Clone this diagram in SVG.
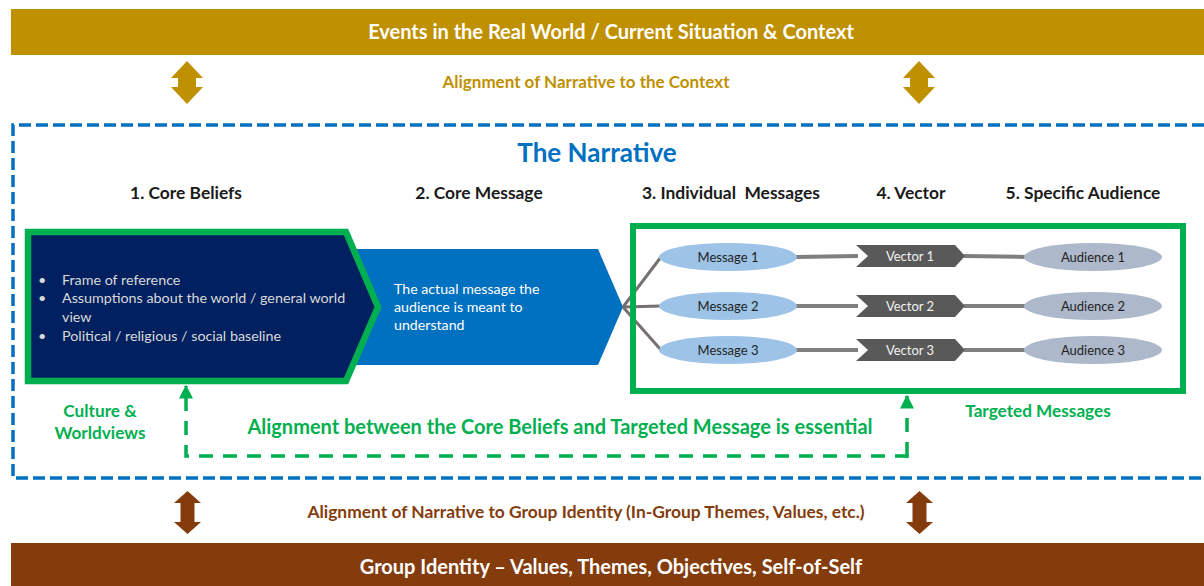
<svg xmlns="http://www.w3.org/2000/svg" width="1204" height="586" viewBox="0 0 1204 586">
  <style>
    text { font-family: Lato, "Open Sans", "Liberation Sans", sans-serif; }
    .bar { font-weight: bold; font-size: 20px; fill: #FFFFFF; text-anchor: middle; }
    .gold { font-weight: bold; font-size: 17px; fill: #BF9000; text-anchor: middle; }
    .brown { font-weight: bold; font-size: 17.4px; fill: #843C0C; text-anchor: middle; }
    .head { font-weight: bold; font-size: 17.4px; fill: #1A1A1A; text-anchor: middle; }
    .title { font-weight: bold; font-size: 26px; fill: #0070C0; text-anchor: middle; }
    .green { font-weight: bold; font-size: 17.2px; fill: #00B050; text-anchor: middle; }
    .greenbig { font-weight: bold; font-size: 20px; fill: #00B050; text-anchor: middle; }
    .belief { font-size: 14.3px; fill: #D9D9D9; }
    .msgtxt { font-size: 14.2px; fill: #FFFFFF; }
    .lbl { font-size: 13px; fill: #1F1F1F; text-anchor: middle; }
    .vlbl { font-size: 13px; fill: #F2F2F2; text-anchor: middle; }
    .msg { fill: #9DC3E6; }
    .aud { fill: #ADB9CA; }
    .vec { fill: #595959; }
    .link { stroke: #7F7F7F; stroke-width: 4; fill: none; }
    .fan { stroke: #767171; stroke-width: 3; fill: none; }
  </style>
  <defs>
    <marker id="garrow" viewBox="0 0 10 10" refX="9" refY="5" markerWidth="4" markerHeight="4" orient="auto">
      <path d="M0,0 L10,5 L0,10 z" fill="#00B050"/>
    </marker>
  </defs>

  <!-- top context bar -->
  <g id="context-bar">
    <rect x="11" y="9" width="1193" height="46" fill="#BF9000"/>
    <text class="bar" x="611" y="39">Events in the Real World / Current Situation &amp; Context</text>
  </g>

  <!-- alignment to context -->
  <g id="context-alignment">
    <polygon fill="#BF9000" points="187,61 203,78 196,78 196,87 203,87 187,104 171,87 178,87 178,78 171,78"/>
    <polygon fill="#BF9000" points="919,61 935,78 928,78 928,87 935,87 919,104 903,87 910,87 910,78 903,78"/>
    <text class="gold" x="586" y="88">Alignment of Narrative to the Context</text>
  </g>

  <!-- narrative frame -->
  <g id="narrative-frame">
    <polyline points="1204,125 13,125 13,478 1204,478" fill="none" stroke="#0070C0" stroke-width="3.5" stroke-dasharray="12,5"/>
    <text class="title" x="597" y="162">The Narrative</text>
    <text class="head" x="186" y="199">1. Core Beliefs</text>
    <text class="head" x="479" y="199">2. Core Message</text>
    <text class="head" x="731" y="199" xml:space="preserve">3. Individual  Messages</text>
    <text class="head" x="911" y="199">4. Vector</text>
    <text class="head" x="1083" y="199">5. Specific Audience</text>
  </g>

  <!-- core message chevron -->
  <g id="core-message">
    <polygon fill="#0070C0" points="340,249 598,249 623,307 598,365 340,365"/>
    <text class="msgtxt" x="394" y="294">The actual message the</text>
    <text class="msgtxt" x="394" y="312">audience is meant to</text>
    <text class="msgtxt" x="394" y="330">understand</text>
  </g>

  <!-- core beliefs pentagon -->
  <g id="core-beliefs">
    <polygon fill="#002060" stroke="#00B050" stroke-width="6.5" points="28,232 346,232 378,307 346,381 28,381"/>
    <g class="belief">
      <text x="38" y="285">•</text><text x="62" y="285">Frame of reference</text>
      <text x="38" y="303">•</text><text x="62" y="303">Assumptions about the world / general world</text>
      <text x="62" y="322">view</text>
      <text x="38" y="341">•</text><text x="62" y="341">Political / religious / social baseline</text>
    </g>
  </g>

  <!-- connectors -->
  <g id="connectors">
    <line class="fan" x1="623" y1="307" x2="661" y2="257"/>
    <line class="fan" x1="623" y1="307" x2="661" y2="306"/>
    <line class="fan" x1="623" y1="307" x2="661" y2="350"/>
    <line class="link" x1="796" y1="257" x2="858" y2="256"/>
    <line class="link" x1="796" y1="306" x2="858" y2="306"/>
    <line class="link" x1="796" y1="350" x2="858" y2="350"/>
    <line class="link" x1="964" y1="256" x2="1026" y2="257"/>
    <line class="link" x1="964" y1="306" x2="1026" y2="306"/>
    <line class="link" x1="964" y1="350" x2="1026" y2="350"/>
    <polyline points="907,458 907,456 186,456 186,386" fill="none" stroke="#00B050" stroke-width="3.5" stroke-dasharray="14,10" marker-end="url(#garrow)"/>
    <line x1="907" y1="456" x2="907" y2="396" stroke="#00B050" stroke-width="3.5" stroke-dasharray="14,10" marker-end="url(#garrow)"/>
  </g>

  <!-- targeted messages box -->
  <g id="targeted-box">
    <rect x="633" y="226" width="550" height="165" fill="none" stroke="#00B050" stroke-width="6"/>
  </g>

  <g id="message-1">
    <ellipse class="msg" cx="728" cy="257" rx="69" ry="14"/>
    <text class="lbl" x="728" y="261.5">Message 1</text>
  </g>
  <g id="message-2">
    <ellipse class="msg" cx="728" cy="306" rx="69" ry="14"/>
    <text class="lbl" x="728" y="310.5">Message 2</text>
  </g>
  <g id="message-3">
    <ellipse class="msg" cx="728" cy="350" rx="69" ry="14"/>
    <text class="lbl" x="728" y="354.5">Message 3</text>
  </g>

  <g id="vector-1">
    <polygon class="vec" points="856,245 955,245 965,256 955,267 856,267 868,256"/>
    <text class="vlbl" x="910" y="260.5">Vector 1</text>
  </g>
  <g id="vector-2">
    <polygon class="vec" points="856,295 955,295 965,306 955,317 856,317 868,306"/>
    <text class="vlbl" x="910" y="310.5">Vector 2</text>
  </g>
  <g id="vector-3">
    <polygon class="vec" points="856,339 955,339 965,350 955,361 856,361 868,350"/>
    <text class="vlbl" x="910" y="354.5">Vector 3</text>
  </g>

  <g id="audience-1">
    <ellipse class="aud" cx="1093" cy="257" rx="69" ry="14"/>
    <text class="lbl" x="1093" y="261.5">Audience 1</text>
  </g>
  <g id="audience-2">
    <ellipse class="aud" cx="1093" cy="306" rx="69" ry="14"/>
    <text class="lbl" x="1093" y="310.5">Audience 2</text>
  </g>
  <g id="audience-3">
    <ellipse class="aud" cx="1093" cy="350" rx="69" ry="14"/>
    <text class="lbl" x="1093" y="354.5">Audience 3</text>
  </g>

  <!-- captions -->
  <g id="captions">
    <text class="green" x="100" y="417">Culture &amp;</text>
    <text class="green" x="100" y="439">Worldviews</text>
    <text class="green" x="1038" y="417">Targeted Messages</text>
    <text class="greenbig" x="560" y="434">Alignment between the Core Beliefs and Targeted Message is essential</text>
  </g>

  <!-- alignment to group identity -->
  <g id="identity-alignment">
    <polygon fill="#843C0C" points="187.5,491 201,503 194.5,503 194.5,522 201,522 187.5,534 174,522 180.5,522 180.5,503 174,503"/>
    <polygon fill="#843C0C" points="919.5,491 933,503 926.5,503 926.5,522 933,522 919.5,534 906,522 912.5,522 912.5,503 906,503"/>
    <text class="brown" x="586" y="518">Alignment of Narrative to Group Identity (In-Group Themes, Values, etc.)</text>
  </g>

  <!-- bottom identity bar -->
  <g id="identity-bar">
    <rect x="11" y="543" width="1193" height="43" fill="#843C0C"/>
    <text class="bar" x="611" y="574">Group Identity – Values, Themes, Objectives, Self-of-Self</text>
  </g>
</svg>
